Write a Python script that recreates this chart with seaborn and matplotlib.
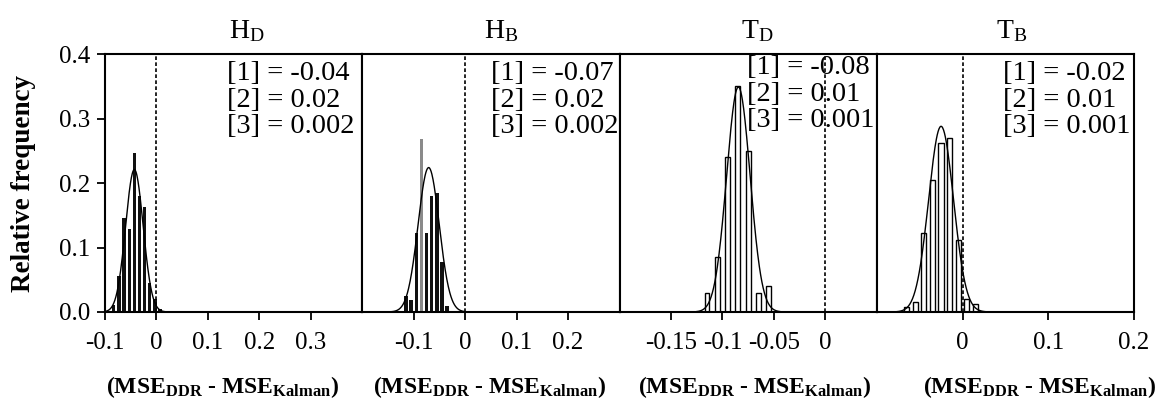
import numpy as np
import pandas as pd
import matplotlib
matplotlib.use('Agg')
import matplotlib.pyplot as plt
import seaborn as sns

# ---------------- data ----------------
panel_titles = [r'$\mathrm{H_D}$', r'$\mathrm{H_B}$', r'$\mathrm{T_D}$', r'$\mathrm{T_B}$']

hd_centers = [-0.083, -0.073, -0.063, -0.053, -0.043, -0.033, -0.023, -0.013, -0.003, 0.007]
hd_freq = [0.011, 0.056, 0.145, 0.128, 0.246, 0.180, 0.163, 0.045, 0.020, 0.005]

hb_centers = [-0.115, -0.105, -0.095, -0.085, -0.075, -0.065, -0.055, -0.045, -0.035]
hb_freq = [0.025, 0.018, 0.123, 0.268, 0.123, 0.180, 0.185, 0.078, 0.010]

td_centers = [-0.115, -0.105, -0.095, -0.085, -0.075, -0.065, -0.055]
td_freq = [0.030, 0.085, 0.240, 0.350, 0.250, 0.030, 0.040]

tb_centers = [-0.065, -0.055, -0.045, -0.035, -0.025, -0.015, -0.005, 0.005, 0.015]
tb_freq = [0.008, 0.015, 0.123, 0.205, 0.262, 0.270, 0.112, 0.020, 0.012]

# fitted normal curves (mean, sd, peak height)
fit_mean = [-0.043, -0.071, -0.0845, -0.025]
fit_sd = [0.017, 0.0205, 0.0114, 0.0145]
fit_peak = [0.221, 0.224, 0.349, 0.288]

stat1 = ['-0.04', '-0.07', '-0.08', '-0.02']
stat2 = ['0.02', '0.02', '0.01', '0.01']
stat3 = ['0.002', '0.002', '0.001', '0.001']

xlims = [(-0.1, 0.4), (-0.2, 0.3), (-0.2, 0.05), (-0.1, 0.2)]
xticks = [[-0.1, 0, 0.1, 0.2, 0.3], [-0.1, 0, 0.1, 0.2],
          [-0.15, -0.1, -0.05, 0], [0, 0.1, 0.2]]
xticklabels = [['-0.1', '0', '0.1', '0.2', '0.3'], ['-0.1', '0', '0.1', '0.2'],
               ['-0.15', '-0.1', '-0.05', '0'], ['0', '0.1', '0.2']]
yticks = [0.0, 0.1, 0.2, 0.3, 0.4]
ylabel = 'Relative frequency'
xlabel = r'$\mathbf{(MSE_{DDR}}$ - $\mathbf{MSE_{Kalman})}$'

# ---------------- style ----------------
sns.set_style('ticks')
plt.rcParams['font.family'] = ['Liberation Serif', 'DejaVu Serif']
plt.rcParams['mathtext.fontset'] = 'custom'
plt.rcParams['mathtext.rm'] = 'Liberation Serif'
plt.rcParams['mathtext.it'] = 'Liberation Serif:italic'
plt.rcParams['mathtext.bf'] = 'Liberation Serif:bold'
plt.rcParams['axes.unicode_minus'] = False
plt.rcParams['text.color'] = 'black'
plt.rcParams['axes.labelcolor'] = 'black'
plt.rcParams['xtick.color'] = 'black'
plt.rcParams['ytick.color'] = 'black'

centers_all = [hd_centers, hb_centers, td_centers, tb_centers]
freq_all = [hd_freq, hb_freq, td_freq, tb_freq]
bin_w = 0.01
shrinks = [0.65, 0.65, 0.47, 0.6]
face = ['#111111', '#111111', 'white', 'white']
edge_lw = [0.0, 0.0, 1.0, 1.0]

title_x = [0.553, 0.541, 0.535, 0.525]
text_x = [0.473, 0.502, 0.496, 0.49]
text_y = [0.972, 0.972, 0.995, 0.972]
xlabel_x = [0.455, 0.494, 0.523, 0.632]

fig, axes = plt.subplots(1, 4, figsize=(11.62, 4.13), dpi=100, sharey=True)
fig.subplots_adjust(left=0.0904, right=0.9759, top=0.869, bottom=0.2446, wspace=0)

for i, ax in enumerate(axes):
    c = np.asarray(centers_all[i], dtype=float)
    df = pd.DataFrame({'x': c, 'w': np.asarray(freq_all[i], dtype=float)})
    sns.histplot(data=df, x='x', weights='w', binwidth=bin_w,
                 binrange=(c[0] - bin_w / 2, c[-1] + bin_w / 2),
                 shrink=shrinks[i], ax=ax,
                 color=face[i], edgecolor='black', linewidth=edge_lw[i], alpha=1,
                 stat='count')
    if i == 1:
        # tallest bar appears grey in the reference
        k = int(np.argmax(freq_all[i]))
        ax.patches[k].set_facecolor('#8a8a8a')
    xs = np.linspace(fit_mean[i] - 3.6 * fit_sd[i], fit_mean[i] + 3.6 * fit_sd[i], 200)
    ys = fit_peak[i] * np.exp(-0.5 * ((xs - fit_mean[i]) / fit_sd[i]) ** 2)
    sns.lineplot(x=xs, y=ys, ax=ax, color='black', linewidth=1.0)
    ax.axvline(0, color='black', linestyle=(0, (2.2, 1.4)), linewidth=1.2)

    ax.set_xlim(*xlims[i])
    ax.set_ylim(0, 0.4)
    ax.set_xticks(xticks[i])
    ax.set_xticklabels(xticklabels[i])
    for s in ax.spines.values():
        s.set_visible(True)
        s.set_linewidth(1.5)
        s.set_color('black')
    ax.tick_params(axis='x', direction='out', length=5.5, width=1.3, pad=9,
                   labelsize=18, colors='black')
    if i == 0:
        ax.set_yticks(yticks)
        ax.set_yticklabels([f'{v:.1f}' for v in yticks])
        ax.tick_params(axis='y', direction='out', length=5.5, width=1.3, pad=5,
                       labelsize=18, colors='black')
        ax.set_ylabel(ylabel, fontsize=19.5, fontweight='bold')
        ax.yaxis.set_label_coords(-0.27, 0.5)
    else:
        ax.tick_params(axis='y', left=False, labelleft=False)
        ax.set_ylabel('')

    ax.set_xlabel(xlabel, fontsize=17, fontweight='bold')
    ax.xaxis.set_label_coords(xlabel_x[i], -0.24)
    ax.xaxis.label.set_va('top')

    ax.text(title_x[i], 1.039, panel_titles[i], transform=ax.transAxes,
            ha='center', va='bottom', fontsize=20)
    ax.text(text_x[i], text_y[i],
            f'[1] = {stat1[i]}\n[2] = {stat2[i]}\n[3] = {stat3[i]}',
            transform=ax.transAxes, ha='left', va='top', fontsize=20.5,
            linespacing=1.08)

fig.savefig('out.png', dpi=100)
